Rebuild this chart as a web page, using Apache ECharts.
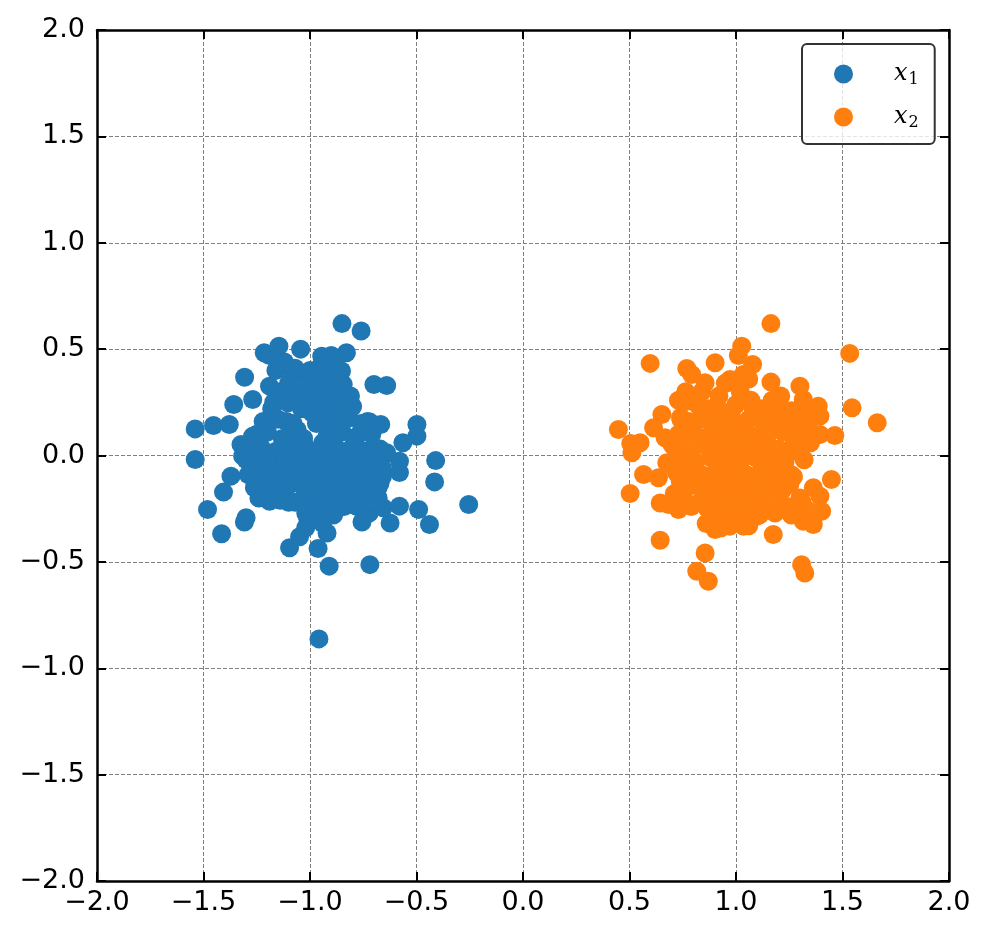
<!DOCTYPE html>
<html>
<head>
<meta charset="utf-8">
<script src="https://cdn.jsdelivr.net/npm/echarts@6.0.0/dist/echarts.min.js"></script>
<style>
html, body { margin: 0; padding: 0; background: #fff; }
#main { width: 990px; height: 939px; }
</style>
</head>
<body>
<div id="main"></div>
<script>
// data
var axisTicks = [-2.0, -1.5, -1.0, -0.5, 0.0, 0.5, 1.0, 1.5, 2.0];

var x1Outer = [
	[-0.85, 0.62], [-0.76, 0.585], [-1.215, 0.483], [-1.19, 0.47], [-1.146, 0.514], [-1.044, 0.50],
	[-0.945, 0.467], [-0.90, 0.47], [-0.829, 0.483], [-0.852, 0.397], [-0.844, 0.334], [-1.307, 0.368],
	[-0.70, 0.334], [-0.64, 0.329], [-1.358, 0.24], [-1.539, 0.125], [-1.453, 0.141], [-1.379, 0.146],
	[-0.719, 0.157], [-0.668, 0.146], [-0.498, 0.146], [-0.498, 0.091], [-0.564, 0.06], [-1.539, -0.019],
	[-0.41, -0.024], [-0.415, -0.124], [-0.255, -0.23], [-1.371, -0.097], [-1.406, -0.172], [-1.481, -0.254],
	[-1.415, -0.368], [-1.30, -0.293], [-1.308, -0.313], [-1.096, -0.434], [-1.049, -0.382], [-0.962, -0.437],
	[-0.91, -0.52], [-0.719, -0.513], [-0.958, -0.862], [-0.92, -0.364], [-0.756, -0.313], [-0.722, -0.27],
	[-0.624, -0.317], [-0.58, -0.238], [-0.49, -0.254], [-0.439, -0.324], [-0.656, -0.246], [-0.58, -0.08],
	[-0.58, -0.027], [-0.64, 0.013], [-0.671, -0.129], [-0.69, -0.168], [-1.19, -0.215], [-1.261, -0.152],
	[-1.324, 0.052], [-1.316, -0.003], [-1.269, 0.263], [-1.19, 0.326], [-0.844, -0.207], [-1.104, 0.248]
];
var x1Core = [
	[-1.25, 0.10], [-1.22, 0.02], [-1.20, -0.08], [-1.18, 0.18], [-1.15, -0.15], [-1.14, 0.30], [-1.12, 0.05],
	[-1.10, -0.22], [-1.08, 0.38], [-1.06, 0.12], [-1.05, -0.05], [-1.04, 0.22], [-1.02, -0.18], [-1.00, 0.30],
	[-0.99, 0.02], [-0.98, -0.26], [-0.97, 0.15], [-0.96, -0.10], [-0.95, 0.42], [-0.94, 0.06], [-0.92, -0.20],
	[-0.91, 0.25], [-0.90, -0.04], [-0.88, 0.12], [-0.87, -0.14], [-0.86, 0.34], [-0.85, 0.00], [-0.84, -0.24],
	[-0.82, 0.18], [-0.80, -0.10], [-0.79, 0.06], [-0.77, -0.18], [-0.75, 0.12], [-0.74, -0.04], [-0.72, -0.12],
	[-0.70, 0.04], [-0.68, -0.20], [-0.66, -0.06], [-1.28, 0.06], [-1.26, -0.12], [-1.17, 0.25], [-1.13, -0.02],
	[-1.11, 0.16], [-1.09, -0.12], [-1.07, 0.28], [-1.03, 0.08], [-1.01, -0.30], [-0.99, 0.20], [-0.97, -0.04],
	[-0.93, 0.32], [-0.91, 0.10], [-0.89, -0.28], [-0.86, 0.22], [-0.83, -0.06], [-0.81, 0.28], [-0.78, -0.24],
	[-0.76, 0.02], [-0.73, 0.16], [-0.71, -0.22], [-1.19, -0.18], [-1.16, 0.40], [-1.12, 0.44], [-1.05, 0.35],
	[-0.98, 0.38], [-0.90, 0.36], [-1.30, -0.02], [-1.24, -0.20], [-1.02, -0.34], [-0.94, -0.32], [-0.88, 0.42]
];
var x1Fill = [
	[-1.27, 0.09], [-1.20, 0.11], [-1.13, 0.08], [-1.06, 0.10], [-0.92, 0.09], [-0.85, 0.11], [-0.78, 0.09], [-0.71, 0.10],
	[-1.30, 0.03], [-1.23, 0.04], [-1.16, 0.02], [-1.09, 0.03], [-1.02, 0.04], [-0.95, 0.02], [-0.88, 0.04], [-0.81, 0.03],
	[-0.74, 0.02], [-0.67, 0.03], [-1.26, -0.03], [-1.19, -0.04], [-1.12, -0.03], [-1.05, -0.02], [-0.98, -0.04],
	[-0.91, -0.03], [-0.84, -0.04], [-0.77, -0.02], [-0.70, -0.04], [-1.29, -0.09], [-1.22, -0.10], [-1.15, -0.08],
	[-1.08, -0.09], [-1.01, -0.10], [-0.94, -0.08], [-0.87, -0.09], [-0.80, -0.10], [-0.73, -0.08], [-0.66, -0.10],
	[-1.24, -0.15], [-1.17, -0.16], [-1.10, -0.14], [-1.03, -0.15], [-0.96, -0.16], [-0.89, -0.14], [-0.82, -0.15],
	[-0.75, -0.16], [-0.68, -0.15], [-1.14, -0.21], [-1.07, -0.22], [-1.00, -0.21], [-0.93, -0.22], [-0.86, -0.20],
	[-0.79, -0.21], [-0.72, -0.22], [-1.02, -0.27], [-0.95, -0.28], [-0.88, -0.26], [-1.22, 0.16], [-1.15, 0.17],
	[-1.08, 0.15], [-0.90, 0.16], [-0.83, 0.17], [-0.76, 0.15], [-1.18, 0.22], [-1.01, 0.23], [-0.94, 0.21],
	[-0.87, 0.22], [-0.80, 0.23], [-1.09, 0.29], [-1.02, 0.27], [-0.95, 0.28], [-0.88, 0.29], [-1.10, 0.34],
	[-1.03, 0.33], [-0.96, 0.34], [-0.89, 0.33], [-1.07, 0.41], [-1.00, 0.40], [-0.93, 0.41]
];

var x2Outer = [
	[1.164, 0.62], [1.534, 0.48], [1.545, 0.224], [1.663, 0.154], [0.597, 0.433], [0.902, 0.436],
	[1.027, 0.514], [1.011, 0.47], [1.078, 0.428], [0.769, 0.409], [0.792, 0.381], [0.855, 0.342],
	[0.764, 0.30], [0.769, 0.255], [0.956, 0.342], [0.972, 0.357], [1.034, 0.381], [1.164, 0.345],
	[1.30, 0.326], [1.316, 0.263], [1.386, 0.232], [1.394, 0.185], [1.464, 0.094], [1.394, 0.099],
	[0.448, 0.122], [0.506, 0.056], [0.55, 0.06], [0.511, 0.013], [0.652, 0.193], [0.613, 0.13],
	[0.667, 0.083], [0.566, -0.089], [0.636, -0.105], [0.503, -0.179], [0.644, -0.223], [0.683, -0.23],
	[0.73, -0.254], [0.769, -0.223], [0.644, -0.398], [0.855, -0.458], [0.816, -0.544], [0.87, -0.591],
	[0.902, -0.348], [0.972, -0.332], [1.034, -0.332], [1.175, -0.371], [1.308, -0.513], [1.323, -0.552],
	[1.448, -0.113], [1.363, -0.152], [1.394, -0.191], [1.402, -0.262], [1.363, -0.324], [1.316, -0.309],
	[1.253, -0.136], [1.30, 0.013], [0.8625, -0.246], [1.097, -0.285], [1.183, -0.27], [0.741, 0.169],
	[0.675, -0.034], [0.738, -0.12]
];
var x2Core = [
	[0.70, 0.05], [0.72, -0.08], [0.74, 0.18], [0.76, -0.16], [0.78, 0.10], [0.80, -0.02], [0.82, 0.24],
	[0.83, -0.22], [0.85, 0.08], [0.86, -0.10], [0.88, 0.16], [0.89, -0.28], [0.90, 0.02], [0.92, 0.28],
	[0.93, -0.14], [0.94, 0.10], [0.96, -0.04], [0.97, 0.20], [0.98, -0.20], [1.00, 0.06], [1.01, -0.10],
	[1.02, 0.30], [1.04, 0.14], [1.05, -0.26], [1.06, 0.00], [1.08, 0.22], [1.09, -0.14], [1.10, 0.08],
	[1.12, -0.04], [1.13, 0.18], [1.14, -0.20], [1.16, 0.04], [1.17, 0.26], [1.18, -0.08], [1.20, 0.12],
	[1.22, -0.16], [1.23, 0.00], [1.25, 0.20], [1.27, -0.10], [1.29, 0.08], [1.31, -0.22], [1.33, 0.14],
	[0.68, -0.04], [0.75, 0.00], [0.79, -0.24], [0.84, 0.30], [0.87, 0.22], [0.91, -0.06], [0.95, 0.34],
	[0.99, 0.12], [1.03, -0.18], [1.07, 0.26], [1.11, -0.28], [1.15, 0.16], [1.19, -0.02], [1.21, 0.28],
	[1.24, -0.24], [1.28, 0.16], [1.32, -0.02], [1.35, 0.06], [0.81, 0.16], [0.93, -0.34], [0.97, -0.30],
	[1.00, 0.24], [1.06, 0.36], [0.86, -0.32], [0.73, 0.26], [0.71, -0.18], [1.26, -0.28], [1.30, 0.22]
];
var x2Fill = [
	[0.84, 0.22], [0.91, 0.23], [0.98, 0.21], [1.12, 0.22], [1.19, 0.23], [1.26, 0.21], [1.33, 0.20],
	[0.78, 0.16], [0.85, 0.17], [0.92, 0.15], [0.99, 0.16], [1.06, 0.17], [1.13, 0.15], [1.20, 0.16],
	[1.27, 0.17], [1.34, 0.15], [0.73, 0.10], [0.80, 0.11], [0.87, 0.09], [0.94, 0.10], [1.01, 0.11],
	[1.08, 0.09], [1.15, 0.10], [1.22, 0.11], [1.29, 0.09], [1.36, 0.10], [0.71, 0.04], [0.78, 0.03],
	[0.85, 0.05], [0.92, 0.04], [0.99, 0.03], [1.06, 0.05], [1.13, 0.04], [1.20, 0.03], [1.27, 0.05],
	[0.74, -0.02], [0.81, -0.03], [0.88, -0.01], [0.95, -0.02], [1.02, -0.03], [1.09, -0.01], [1.16, -0.02],
	[1.23, -0.03], [0.77, -0.08], [0.84, -0.09], [0.91, -0.07], [0.98, -0.08], [1.05, -0.09], [1.12, -0.07],
	[1.19, -0.08], [1.26, -0.09], [0.80, -0.14], [0.87, -0.15], [0.94, -0.13], [1.01, -0.14], [1.08, -0.15],
	[1.15, -0.13], [1.22, -0.14], [0.85, -0.20], [0.92, -0.21], [0.99, -0.19], [1.06, -0.20], [1.13, -0.21],
	[1.20, -0.19], [1.30, -0.20], [0.90, -0.26], [0.97, -0.27], [1.04, -0.25], [1.11, -0.26], [1.34, -0.26],
	[0.92, -0.32], [0.99, -0.31], [1.06, -0.33]
];

var myChart = echarts.init(document.getElementById('main'));

function tickLabel(v) {
	return v.toFixed(1).replace('-', '\u2212');
}

var lineStyle = { color: '#000', width: 2.5 };
var tickStyle = { show: true, inside: true, length: 9, lineStyle: { color: '#000', width: 2 } };
var gridStyle = { show: true, lineStyle: { color: '#808080', width: 1, type: [4, 2] } };
var labelStyle = { fontFamily: 'DejaVu Sans', fontSize: 27, color: '#000' };

option = {
	animation: false,
	backgroundColor: '#fff',
	grid: { left: 97, right: 41, top: 30, bottom: 58 },
	legend: {
		left: 802,
		top: 44,
		orient: 'vertical',
		icon: 'circle',
		itemWidth: 19,
		itemHeight: 19,
		itemGap: 17,
		padding: [18, 16, 13, 32],
		backgroundColor: 'rgba(255,255,255,0.8)',
		borderColor: '#333',
		borderWidth: 2,
		borderRadius: 5,
		data: ['x1', 'x2'],
		formatter: function (name) {
			return '{i|x}{s|' + name.slice(1) + '}';
		},
		textStyle: {
			padding: [0, 0, 0, 36],
			rich: {
				i: { fontFamily: 'DejaVu Serif', fontStyle: 'italic', fontSize: 24, color: '#000' },
				s: { fontFamily: 'DejaVu Serif', fontSize: 16, color: '#000', padding: [12, 0, 0, 1] }
			}
		}
	},
	xAxis: [
		{
			type: 'value', min: axisTicks[0], max: axisTicks[axisTicks.length - 1], interval: 0.5, position: 'bottom',
			axisLine: { show: true, onZero: false, lineStyle: lineStyle },
			axisTick: tickStyle,
			splitLine: gridStyle,
			axisLabel: Object.assign({ margin: 8, formatter: tickLabel }, labelStyle)
		},
		{
			type: 'value', min: axisTicks[0], max: axisTicks[axisTicks.length - 1], interval: 0.5, position: 'top',
			axisLine: { show: true, onZero: false, lineStyle: lineStyle },
			axisTick: tickStyle,
			splitLine: { show: false },
			axisLabel: { show: false }
		}
	],
	yAxis: [
		{
			type: 'value', min: axisTicks[0], max: axisTicks[axisTicks.length - 1], interval: 0.5, position: 'left',
			axisLine: { show: true, onZero: false, lineStyle: lineStyle },
			axisTick: tickStyle,
			splitLine: gridStyle,
			axisLabel: Object.assign({ margin: 12, formatter: tickLabel }, labelStyle)
		},
		{
			type: 'value', min: axisTicks[0], max: axisTicks[axisTicks.length - 1], interval: 0.5, position: 'right',
			axisLine: { show: true, onZero: false, lineStyle: lineStyle },
			axisTick: tickStyle,
			splitLine: { show: false },
			axisLabel: { show: false }
		}
	],
	series: [
		{
			name: 'x1',
			type: 'scatter',
			symbolSize: 19,
			itemStyle: { color: '#1f77b4', opacity: 1 },
			data: x1Outer.concat(x1Core, x1Fill)
		},
		{
			name: 'x2',
			type: 'scatter',
			symbolSize: 19,
			itemStyle: { color: '#ff7f0e', opacity: 1 },
			data: x2Outer.concat(x2Core, x2Fill)
		}
	]
};
myChart.setOption(option);
</script>
</body>
</html>
